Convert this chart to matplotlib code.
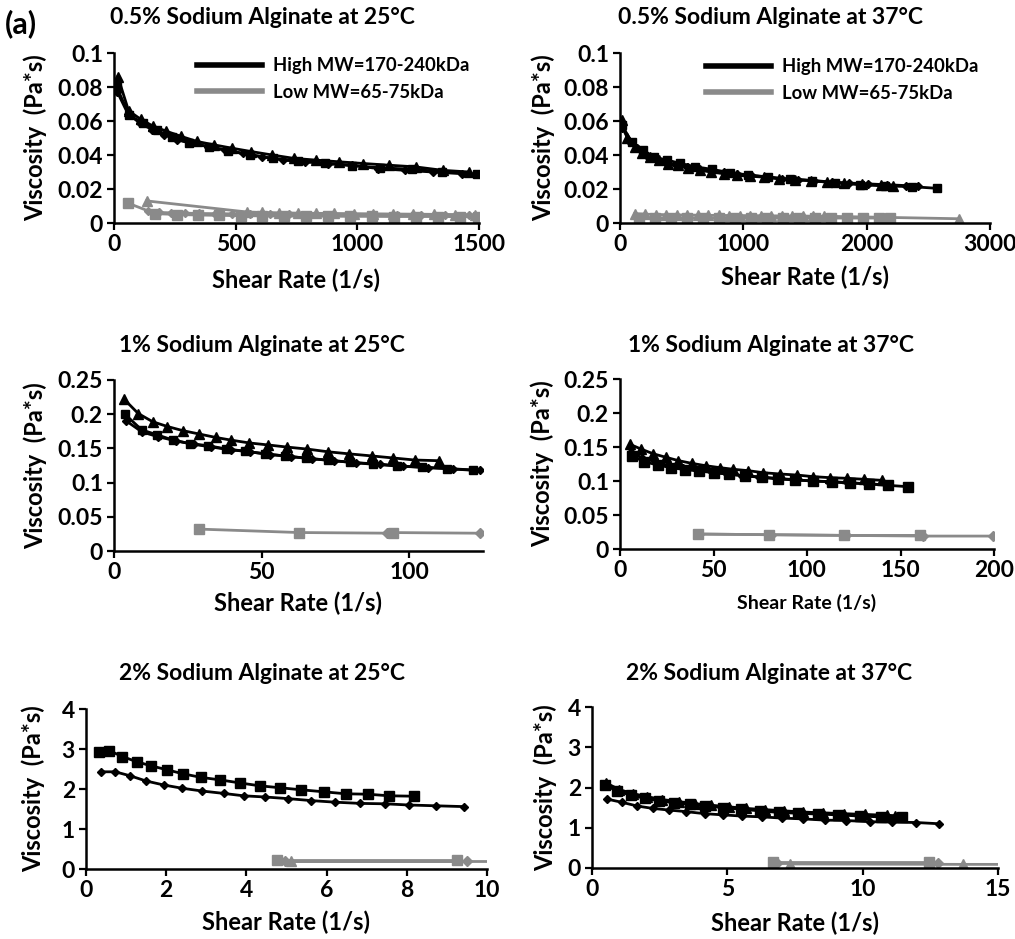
import matplotlib
matplotlib.use("Agg")
import matplotlib.pyplot as plt
from matplotlib.lines import Line2D
from matplotlib.ticker import FuncFormatter

plt.rcParams['font.family'] = ['Lato', 'DejaVu Sans']
plt.rcParams['font.weight'] = 'bold'

HI = 'black'
LO = '#8a8a8a'

# ---- panel 1 : 0.5% at 25C ----
p1_hsq_x = [11, 62, 121, 175, 237, 310, 389, 470, 559, 655, 758, 867, 977, 1093, 1223, 1347, 1491]
p1_hsq_y = [0.080, 0.0635, 0.0586, 0.0547, 0.0504, 0.0469, 0.0449, 0.0425, 0.040, 0.038, 0.0365,
            0.0351, 0.0337, 0.0325, 0.0316, 0.0302, 0.0288]
p1_htr_x = [16, 60, 110, 160, 215, 275, 340, 410, 485, 565, 650, 740, 830, 925, 1025, 1130, 1240, 1350, 1460]
p1_htr_y = [0.086, 0.066, 0.061, 0.057, 0.054, 0.051, 0.048, 0.046, 0.044, 0.042, 0.040, 0.038,
            0.037, 0.036, 0.035, 0.034, 0.033, 0.031, 0.030]
p1_hdi_x = [14, 58, 105, 155, 205, 260, 320, 385, 455, 530, 610, 695, 785, 880, 980, 1085, 1195, 1310, 1430]
p1_hdi_y = [0.077, 0.064, 0.059, 0.055, 0.052, 0.049, 0.047, 0.045, 0.043, 0.041, 0.039, 0.037,
            0.036, 0.035, 0.034, 0.032, 0.031, 0.030, 0.029]
p1_lsq_x = [59, 170, 260, 345, 430, 520, 610, 700, 790, 880, 970, 1060, 1150, 1240, 1330, 1420, 1496]
p1_lsq_y = [0.0116, 0.0055, 0.005, 0.0047, 0.0045, 0.0043, 0.0042, 0.0041, 0.004, 0.004, 0.0039,
            0.0039, 0.0038, 0.0038, 0.0038, 0.0037, 0.0037]
p1_ltr_x = [134, 545, 610, 680, 755, 830, 905, 985, 1065, 1145, 1230, 1315, 1400, 1485]
p1_ltr_y = [0.013, 0.0065, 0.0062, 0.006, 0.0058, 0.0057, 0.0056, 0.0055, 0.0054, 0.0053, 0.0052,
            0.0051, 0.0050, 0.0049]
p1_ldi_x = [140, 185, 235, 290, 350, 415, 485, 560, 640, 720, 805, 890, 980, 1070, 1165, 1260, 1360, 1460]
p1_ldi_y = [0.0068, 0.0062, 0.006, 0.0058, 0.0056, 0.0055, 0.0054, 0.0053, 0.0052, 0.0051, 0.005,
            0.0049, 0.0048, 0.0047, 0.0046, 0.0046, 0.0045, 0.0045]

# ---- panel 2 : 0.5% at 37C ----
p2_hsq_x = [14, 95, 189, 278, 378, 487, 608, 743, 892, 1041, 1203, 1379, 1554, 1744, 1946, 2149, 2365, 2569]
p2_hsq_y = [0.0576, 0.0478, 0.0429, 0.0386, 0.0371, 0.0351, 0.0331, 0.0316, 0.0296, 0.0282, 0.0271,
            0.0257, 0.0249, 0.0237, 0.0225, 0.0218, 0.0214, 0.0204]
p2_htr_x = [14, 60, 120, 180, 245, 315, 390, 470, 555, 645, 740, 840, 945, 1055, 1170, 1290, 1415,
            1545, 1680, 1820, 1965, 2115, 2210]
p2_htr_y = [0.0606, 0.050, 0.045, 0.041, 0.039, 0.037, 0.035, 0.034, 0.0325, 0.031, 0.030, 0.029,
            0.028, 0.0275, 0.027, 0.026, 0.0255, 0.025, 0.024, 0.0235, 0.023, 0.0225, 0.022]
p2_hdi_x = [20, 75, 140, 210, 285, 365, 450, 540, 635, 735, 840, 950, 1065, 1185, 1310, 1440, 1575,
            1715, 1860, 2010, 2165, 2320, 2420]
p2_hdi_y = [0.056, 0.048, 0.044, 0.040, 0.038, 0.036, 0.034, 0.033, 0.032, 0.031, 0.030, 0.029,
            0.028, 0.027, 0.026, 0.0255, 0.025, 0.024, 0.0235, 0.023, 0.0225, 0.022, 0.0215]
p2_lsq_x = [150, 280, 410, 540, 670, 800, 930, 1060, 1190, 1320, 1450, 1580, 1710, 1840, 1970, 2100, 2190]
p2_lsq_y = [0.0032, 0.0031, 0.0031, 0.003, 0.003, 0.003, 0.003, 0.0029, 0.0029, 0.0029, 0.0029,
            0.0029, 0.0029, 0.0029, 0.0029, 0.0029, 0.0029]
p2_ltr_x = [120, 205, 290, 375, 460, 545, 630, 715, 800, 885, 970, 1055, 1140, 1225, 1310, 1395,
            1480, 1565, 1650, 2750]
p2_ltr_y = [0.0055, 0.0052, 0.005, 0.0049, 0.0048, 0.0047, 0.0046, 0.0045, 0.0045, 0.0044, 0.0044,
            0.0043, 0.0043, 0.0042, 0.0042, 0.0041, 0.0041, 0.004, 0.004, 0.0025]

# ---- panel 3 : 1% at 25C ----
p3_htr_x = [3.4, 8.2, 13.1, 18.1, 23.3, 28.9, 34.5, 39.8, 45.8, 52.3, 58.5, 65.5, 72.6, 79.7, 87.3,
            94.6, 101.9, 110.2]
p3_htr_y = [0.222, 0.201, 0.189, 0.182, 0.176, 0.171, 0.166, 0.162, 0.158, 0.155, 0.152, 0.149,
            0.145, 0.142, 0.139, 0.136, 0.133, 0.132]
p3_hsq_x = [3.7, 9.4, 14.5, 20.1, 25.7, 31.9, 38.1, 44.4, 51.1, 57.9, 65.2, 72.6, 80.1, 87.8, 95.7,
            104.2, 112.9, 121.7]
p3_hsq_y = [0.200, 0.177, 0.170, 0.162, 0.157, 0.154, 0.149, 0.146, 0.142, 0.139, 0.1355, 0.1326,
            0.1297, 0.1268, 0.1243, 0.1224, 0.1204, 0.118]
p3_hdi_x = [4.2, 9.5, 15, 21, 27, 33, 39.5, 46, 53, 60, 67, 74.5, 82, 90, 98, 106.5, 115, 124]
p3_hdi_y = [0.190, 0.174, 0.167, 0.161, 0.156, 0.152, 0.148, 0.145, 0.141, 0.138, 0.135, 0.132,
            0.129, 0.127, 0.124, 0.122, 0.120, 0.118]
p3_lsq_x = [28.9, 62.7, 94.6]
p3_lsq_y = [0.032, 0.027, 0.026]
p3_ldi_x = [92.6, 124]
p3_ldi_y = [0.027, 0.026]

# ---- panel 4 : 1% at 37C ----
p4_htr_x = [5.3, 11.2, 17.8, 24.4, 31.2, 38.3, 45.8, 53.5, 60.6, 68.6, 76.6, 85.6, 94.5, 103.4,
            112.3, 121.2, 130.6, 139.9]
p4_htr_y = [0.154, 0.147, 0.140, 0.135, 0.130, 0.126, 0.1225, 0.1196, 0.1172, 0.1152, 0.1122,
            0.1103, 0.1088, 0.1064, 0.1049, 0.104, 0.1025, 0.101]
p4_hsq_x = [6.6, 13, 20.1, 27.3, 34.8, 42.2, 50.4, 58.3, 66.8, 75.8, 84.7, 93.6, 103.4, 113.2, 123,
            133.2, 143.5, 154.2]
p4_hsq_y = [0.1368, 0.1284, 0.1235, 0.1196, 0.1167, 0.1147, 0.1122, 0.1098, 0.1074, 0.1054, 0.1029,
            0.1015, 0.100, 0.099, 0.0975, 0.0956, 0.0936, 0.0916]
p4_hdi_x = [6, 12, 19, 26, 33.5, 41, 49, 57, 65.5, 74.5, 83.5, 93, 102.5, 112, 122, 132, 144]
p4_hdi_y = [0.142, 0.134, 0.128, 0.123, 0.119, 0.116, 0.113, 0.111, 0.108, 0.106, 0.104, 0.102,
            0.100, 0.099, 0.097, 0.096, 0.094]
p4_lsq_x = [41.5, 79.7, 119.6, 160.4]
p4_lsq_y = [0.022, 0.021, 0.020, 0.020]
p4_ldi_x = [42, 81, 121, 162, 199.3]
p4_ldi_y = [0.022, 0.021, 0.020, 0.019, 0.019]

# ---- panel 5 : 2% at 25C ----
p5_hsq_x = [0.33, 0.58, 0.91, 1.27, 1.62, 2.02, 2.42, 2.87, 3.33, 3.85, 4.33, 4.85, 5.37, 5.93,
            6.48, 7.03, 7.56, 8.17]
p5_hsq_y = [2.93, 2.96, 2.81, 2.68, 2.58, 2.48, 2.38, 2.29, 2.23, 2.15, 2.08, 2.03, 1.98, 1.93,
            1.88, 1.87, 1.83, 1.82]
p5_hdi_x = [0.38, 0.73, 1.10, 1.50, 1.94, 2.39, 2.89, 3.43, 3.93, 4.47, 5.03, 5.62, 6.22, 6.84,
            7.45, 8.05, 8.73, 9.42]
p5_hdi_y = [2.43, 2.43, 2.33, 2.20, 2.10, 2.02, 1.95, 1.89, 1.83, 1.80, 1.76, 1.71, 1.67, 1.64,
            1.63, 1.60, 1.58, 1.56]
p5_lsq_x = [4.76, 9.25]
p5_lsq_y = [0.22, 0.22]
p5_ldi_x = [4.97, 9.5]
p5_ldi_y = [0.20, 0.20]
p5_ltr_x = [5.12, 10.4]
p5_ltr_y = [0.19, 0.19]

# ---- panel 6 : 2% at 37C ----
p6_hsq_x = [0.47, 0.94, 1.43, 1.95, 2.48, 3.03, 3.61, 4.19, 4.84, 5.52, 6.19, 6.90, 7.61, 8.35,
            9.09, 9.89, 10.66, 11.45]
p6_hsq_y = [2.06, 1.91, 1.81, 1.73, 1.67, 1.62, 1.58, 1.54, 1.50, 1.46, 1.42, 1.38, 1.36, 1.34,
            1.32, 1.29, 1.27, 1.27]
p6_htr_x = [0.5, 1.0, 1.5, 2.05, 2.6, 3.2, 3.8, 4.4, 5.05, 5.7, 6.4, 7.1, 7.8, 8.55, 9.3, 10.1,
            10.9, 11.2]
p6_htr_y = [2.12, 1.95, 1.85, 1.77, 1.70, 1.65, 1.60, 1.56, 1.52, 1.48, 1.45, 1.42, 1.39, 1.37,
            1.35, 1.33, 1.31, 1.30]
p6_hdi_x = [0.57, 1.12, 1.67, 2.25, 2.84, 3.48, 4.16, 4.84, 5.54, 6.28, 7.02, 7.79, 8.60, 9.39,
            10.26, 11.09, 11.98, 12.81]
p6_hdi_y = [1.71, 1.63, 1.54, 1.48, 1.44, 1.40, 1.35, 1.32, 1.29, 1.27, 1.24, 1.22, 1.19, 1.18,
            1.15, 1.14, 1.13, 1.10]
p6_lsq_x = [6.69, 12.44]
p6_lsq_y = [0.14, 0.14]
p6_ldi_x = [6.85, 12.78]
p6_ldi_y = [0.12, 0.12]
p6_ltr_x = [7.30, 13.7, 15.6]
p6_ltr_y = [0.10, 0.09, 0.09]

titles = ['0.5% Sodium Alginate at 25°C', '0.5% Sodium Alginate at 37°C',
          '1% Sodium Alginate at 25°C', '1% Sodium Alginate at 37°C',
          '2% Sodium Alginate at 25°C', '2% Sodium Alginate at 37°C']
xlims = [1500, 3000, 125, 200, 10, 15]
xticks = [[0, 500, 1000, 1500], [0, 1000, 2000, 3000], [0, 50, 100],
          [0, 50, 100, 150, 200], [0, 2, 4, 6, 8, 10], [0, 5, 10, 15]]
yticks = [[0, 0.02, 0.04, 0.06, 0.08, 0.1], [0, 0.02, 0.04, 0.06, 0.08, 0.1],
          [0, 0.05, 0.1, 0.15, 0.2, 0.25], [0, 0.05, 0.1, 0.15, 0.2, 0.25],
          [0, 1, 2, 3, 4], [0, 1, 2, 3, 4]]

W, H = 1015, 939
fig = plt.figure(figsize=(W / 100, H / 100), dpi=100)


def fx(px):
    return px / W


def fy(py):
    return 1 - py / H


# axes boxes in pixels: left, top, right, bottom
boxes = [(114, 53, 479, 223), (620, 53, 990, 223),
         (114, 380, 483, 551), (620, 379, 994, 549),
         (86, 709, 487, 869), (592, 707, 998, 868)]
title_pos = [(262, 17), (770, 17), (262, 345), (771, 345), (262, 673), (769, 673)]
xlab_pos = [(296, 280), (805, 277), (298, 603), (807, 603), (286, 922), (795, 923)]
ylab_pos = [35, 543, 35, 542, 33, 545]

axes = []
for i, (l, t, r, b) in enumerate(boxes):
    ax = fig.add_axes([fx(l), fy(b), fx(r - l), (b - t) / H])
    ax.set_xlim(0, xlims[i])
    ax.set_ylim(0, yticks[i][-1])
    ax.set_xticks(xticks[i])
    ax.set_yticks(yticks[i])
    ax.yaxis.set_major_formatter(FuncFormatter(lambda v, p: '{:g}'.format(v)))
    for s in ['top', 'right']:
        ax.spines[s].set_visible(False)
    for s in ['left', 'bottom']:
        ax.spines[s].set_linewidth(1.8)
    ax.tick_params(direction='out', length=5, width=1.6, labelsize=16.5, pad=3)
    for lab in ax.get_xticklabels() + ax.get_yticklabels():
        lab.set_fontweight('bold')
    fig.text(fx(title_pos[i][0]), fy(title_pos[i][1]), titles[i], ha='center', va='center',
             fontsize=16.5, fontweight='bold')
    ax.set_xlabel('Shear Rate (1/s)', fontsize=14 if i == 3 else 17, fontweight='bold', va='center')
    ax.xaxis.set_label_coords(fx(xlab_pos[i][0]), fy(xlab_pos[i][1]), transform=fig.transFigure)
    ax.set_ylabel('Viscosity  (Pa*s)', fontsize=17, fontweight='bold', va='center')
    ax.yaxis.set_label_coords(fx(ylab_pos[i]), fy((t + b) / 2), transform=fig.transFigure)
    axes.append(ax)


def series(ax, x, y, color, marker, ms):
    ax.plot(x, y, color=color, lw=2, marker=marker, ms=ms, mec=color, mfc=color)


tri, sq, di = '^', 's', 'D'

a = axes[0]
series(a, p1_lsq_x, p1_lsq_y, LO, sq, 6.5)
series(a, p1_ldi_x, p1_ldi_y, LO, di, 4.5)
series(a, p1_ltr_x, p1_ltr_y, LO, tri, 6.5)
series(a, p1_hdi_x, p1_hdi_y, HI, di, 4.5)
series(a, p1_htr_x, p1_htr_y, HI, tri, 6.5)
series(a, p1_hsq_x, p1_hsq_y, HI, sq, 6)

a = axes[1]
series(a, p2_lsq_x, p2_lsq_y, LO, sq, 6.5)
series(a, p2_ltr_x, p2_ltr_y, LO, tri, 6.5)
series(a, p2_hdi_x, p2_hdi_y, HI, di, 4.5)
series(a, p2_htr_x, p2_htr_y, HI, tri, 6.5)
series(a, p2_hsq_x, p2_hsq_y, HI, sq, 6)

a = axes[2]
series(a, p3_lsq_x, p3_lsq_y, LO, sq, 7.5)
series(a, p3_ldi_x, p3_ldi_y, LO, di, 5)
series(a, p3_htr_x, p3_htr_y, HI, tri, 6.5)
series(a, p3_hsq_x, p3_hsq_y, HI, sq, 6)
series(a, p3_hdi_x, p3_hdi_y, HI, di, 4.5)

a = axes[3]
series(a, p4_lsq_x, p4_lsq_y, LO, sq, 7.5)
series(a, p4_ldi_x, p4_ldi_y, LO, di, 5)
series(a, p4_htr_x, p4_htr_y, HI, tri, 6.5)
series(a, p4_hdi_x, p4_hdi_y, HI, di, 4.5)
series(a, p4_hsq_x, p4_hsq_y, HI, sq, 6.5)

a = axes[4]
series(a, p5_ltr_x, p5_ltr_y, LO, tri, 6.5)
series(a, p5_ldi_x, p5_ldi_y, LO, di, 5)
series(a, p5_lsq_x, p5_lsq_y, LO, sq, 7.5)
series(a, p5_hdi_x, p5_hdi_y, HI, di, 4.5)
series(a, p5_hsq_x, p5_hsq_y, HI, sq, 7.5)

a = axes[5]
series(a, p6_ltr_x, p6_ltr_y, LO, tri, 6.5)
series(a, p6_ldi_x, p6_ldi_y, LO, di, 5)
series(a, p6_lsq_x, p6_lsq_y, LO, sq, 7.5)
series(a, p6_hdi_x, p6_hdi_y, HI, di, 4.5)
series(a, p6_htr_x, p6_htr_y, HI, tri, 6.5)
series(a, p6_hsq_x, p6_hsq_y, HI, sq, 6.5)

handles = [Line2D([], [], color=HI, lw=4), Line2D([], [], color=LO, lw=4)]
labels = ['High MW=170-240kDa', 'Low MW=65-75kDa']
for ax, (lx, ly) in zip(axes[:2], [(197, 79), (706, 80)]):
    ax.legend(handles, labels, loc='center left', bbox_to_anchor=(fx(lx), fy(ly)),
              bbox_transform=fig.transFigure, frameon=False,
              handlelength=3.5, handletextpad=0.6, borderpad=0, borderaxespad=0,
              labelspacing=0.5, prop={'weight': 'bold', 'size': 13.3})

fig.text(fx(5), fy(24), '(a)', fontsize=22, fontweight='bold', ha='left', va='center')

fig.savefig('out.png', dpi=100)
